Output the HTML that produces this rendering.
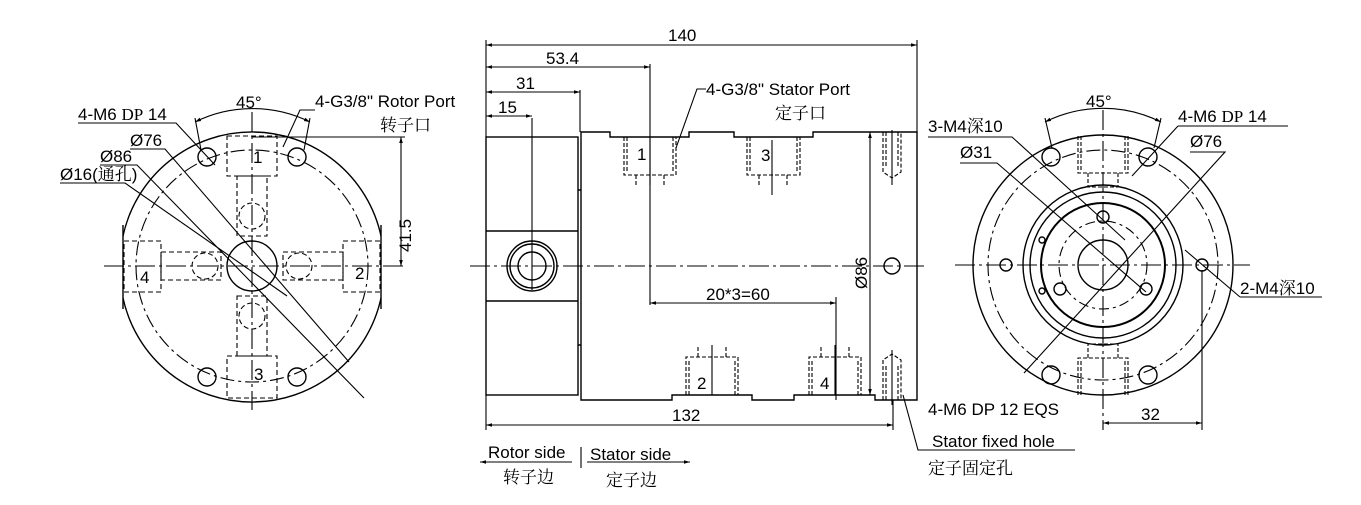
<!DOCTYPE html>
<html><head><meta charset="utf-8"><style>
body{margin:0;background:#fff}
svg{display:block}
text{font-family:"Liberation Sans","Noto Sans CJK SC",sans-serif;fill:#000}
.cn{font-family:"Noto Serif CJK SC","Noto Sans CJK SC",serif;}
</style></head><body>
<svg width="1361" height="505" viewBox="0 0 1361 505" xmlns="http://www.w3.org/2000/svg">
<defs>
<marker id="a" viewBox="0 0 10 10" refX="10" refY="5" markerWidth="10" markerHeight="6" orient="auto-start-reverse" markerUnits="userSpaceOnUse"><path d="M0,2 L10,5 L0,8z" fill="#000"/></marker>
</defs>
<g fill="none" stroke="#000" stroke-width="1.1">
<g stroke-width="1.4">
<path d="M123,236 A132,132 0 0 1 381,236 M123,298 A132,132 0 0 0 381,298"/>
<path d="M123,225 V309 M381,225 V309"/>
<circle cx="252" cy="266" r="25"/>
<circle cx="207" cy="157" r="9"/><circle cx="297" cy="157" r="9"/>
<circle cx="207" cy="377" r="9"/><circle cx="297" cy="377" r="9"/>
</g>
<circle cx="252" cy="266" r="116" stroke-dasharray="14,4,3,4"/>
<g stroke-dasharray="5,3">
<rect x="227" y="136" width="50" height="40"/><rect x="237" y="176" width="30" height="60"/><circle cx="252" cy="216" r="13"/>
<rect x="227" y="356" width="50" height="42"/><rect x="237" y="296" width="30" height="60"/><circle cx="252" cy="316" r="13"/>
<rect x="124" y="241" width="37" height="51"/><rect x="161" y="252" width="60" height="28"/><circle cx="205" cy="266" r="13"/>
<rect x="343" y="241" width="37" height="51"/><rect x="283" y="252" width="60" height="28"/><circle cx="299" cy="266" r="13"/>
</g>
<path d="M104,266 H405 M252,112 V410" stroke-dasharray="20,4,3,4"/>
<path d="M78,123 H176 L215,165"/>
<path d="M130,149 H165 L349,362"/>
<path d="M100,165 H137 L364,398"/>
<path d="M60,183 H125 L287,296"/>
<path d="M315,110 H300 L283,147"/>
<path d="M195,122 A130,130 0 0 1 310,122" marker-start="url(#a)" marker-end="url(#a)"/>
<path d="M195,118 L201,150 M310,118 L304,150"/>
<path d="M252,137 H405"/>
<path d="M401,137 V266" marker-start="url(#a)" marker-end="url(#a)"/>
</g>
<g font-size="17">
<text x="236" y="108">45°</text>
<text x="78" y="120">4-M6 <tspan font-family="Liberation Serif">DP</tspan>  14</text>
<text x="130" y="146">Ø76</text>
<text x="100" y="162">Ø86</text>
<text x="60" y="180">Ø16(<tspan class="cn">通孔</tspan>)</text>
<text x="315" y="107">4-G3/8"  Rotor Port</text>
<text x="380" y="131" class="cn" fill="#333">转子口</text>
<text x="253" y="163">1</text><text x="355" y="279">2</text><text x="254" y="380">3</text><text x="140" y="283">4</text>
<text transform="translate(411,252) rotate(-90)">41.5</text>
</g>

<g fill="none" stroke="#000" stroke-width="1.1">
<g stroke-width="1.4">
<rect x="486" y="137" width="92" height="258"/>
<path d="M486,231 H578 M486,301 H578"/>
<path d="M581,132 H610 V137 H689 V132 H734 V137 H813 V132 H917 V400 H875 V395 H794 V400 H752 V395 H672 V400 H581 Z"/>
<path d="M578,190 H581 M578,345 H581"/>
<circle cx="532" cy="266" r="25"/><circle cx="532" cy="266" r="22"/><circle cx="532" cy="266" r="14"/>
<circle cx="892" cy="266" r="8"/>
</g>
<g stroke-dasharray="4,2">
<path d="M624,137 V175 H676 V137 M627,137 V172 M673,137 V172 M636,175 V187 M664,175 V187"/>
<path d="M747,137 V175 H800 V137 M750,137 V172 M797,137 V172 M759,175 V187 M787,175 V187"/>
<path d="M686,395 V357 H738 V395 M689,395 V360 M735,395 V360 M698,357 V345 M726,357 V345"/>
<path d="M809,395 V357 H861 V395 M812,395 V360 M858,395 V360 M821,357 V345 M849,357 V345"/>
<path d="M883,132 V172 L892,178 L901,172 V132 M886,132 V168 M898,132 V168"/>
<path d="M883,400 V360 L892,354 L901,360 V400 M886,400 V364 M898,400 V364"/>
</g>
<path d="M470,266 H925" stroke-dasharray="20,4,3,4"/>
<path d="M532,118 V290 M650,138 V185 M772,140 V195 M712,345 V395 M835,345 V395 M892,130 V185 M892,350 V405"/>
<path d="M486,40 V137 M917,40 V132 M650,64 V305 M580,90 V132 M836,297 V400 M893,400 V430 M486,395 V430"/>
<path d="M486,45 H917" marker-start="url(#a)" marker-end="url(#a)"/>
<path d="M486,67 H650" marker-start="url(#a)" marker-end="url(#a)"/>
<path d="M486,92 H580" marker-start="url(#a)" marker-end="url(#a)"/>
<path d="M486,116 H532" marker-start="url(#a)" marker-end="url(#a)"/>
<path d="M650,303 H836" marker-start="url(#a)" marker-end="url(#a)"/>
<path d="M486,425 H893" marker-start="url(#a)" marker-end="url(#a)"/>
<path d="M870,132 V395" marker-start="url(#a)" marker-end="url(#a)"/>
<path d="M706,89 H697 L676,148"/>
<path d="M903,395 L918,450 H1075"/>
<path d="M480,462 H572" marker-start="url(#a)"/>
<path d="M587,462 H690" marker-end="url(#a)"/>
<path d="M581,447 V468"/>
</g>
<g font-size="17">
<text x="668" y="41">140</text>
<text x="546" y="64">53.4</text>
<text x="516" y="89">31</text>
<text x="498" y="113">15</text>
<text x="706" y="95">4-G3/8" Stator Port</text>
<text x="775" y="119" class="cn" fill="#333">定子口</text>
<text x="637" y="160">1</text><text x="761" y="161">3</text><text x="697" y="389">2</text><text x="820" y="389">4</text>
<text x="706" y="300">20*3=60</text>
<text x="672" y="421">132</text>
<text transform="translate(867,289) rotate(-90)">Ø86</text>
<text x="488" y="458">Rotor side</text>
<text x="590" y="460">Stator side</text>
<text x="503" y="483" class="cn">转子边</text>
<text x="606" y="486" class="cn">定子边</text>
<text x="928" y="415">4-M6 DP 12 EQS</text>
<text x="932" y="447">Stator fixed hole</text>
<text x="928" y="474" class="cn">定子固定孔</text>
</g>

<g fill="none" stroke="#000" stroke-width="1.1">
<g stroke-width="1.4">
<circle cx="1103" cy="265" r="130"/>
<circle cx="1103" cy="265" r="80"/>
<circle cx="1103" cy="265" r="73"/>
<circle cx="1103" cy="265" r="25"/>
<circle cx="1051" cy="157" r="9"/><circle cx="1148" cy="157" r="9"/>
<circle cx="1051" cy="375" r="9"/><circle cx="1148" cy="375" r="9"/>
<circle cx="1103" cy="217" r="6"/><circle cx="1060" cy="289" r="6"/><circle cx="1146" cy="289" r="6"/>
<circle cx="1006" cy="265" r="6"/><circle cx="1202" cy="265" r="6"/>
<circle cx="1042" cy="240" r="3"/><circle cx="1042" cy="291" r="3"/>
</g>
<circle cx="1103" cy="265" r="62" stroke-width="2"/>
<circle cx="1103" cy="265" r="115" stroke-dasharray="14,4,3,4"/>
<circle cx="1103" cy="265" r="44" stroke-dasharray="10,4,3,4"/>
<g stroke-dasharray="4,2">
<path d="M1078,136 V173 H1128 V136 M1081,136 V170 M1125,136 V170 M1088,173 V187 H1118 V173"/>
<path d="M1078,395 V358 H1128 V395 M1081,395 V361 M1125,395 V361 M1088,358 V344 H1118 V358"/>
</g>
<path d="M955,265 H1250 M1103,110 V430" stroke-dasharray="20,4,3,4"/>
<path d="M928,137 H1012 L1125,240"/>
<path d="M960,163 H997 L1146,292"/>
<path d="M1178,126 H1288 M1178,126 L1132,176"/>
<path d="M1190,152 H1225 L1024,373"/>
<path d="M1240,297 H1322 M1240,297 L1185,250"/>
<path d="M1045,122 A130,130 0 0 1 1161,122" marker-start="url(#a)" marker-end="url(#a)"/>
<path d="M1045,118 L1052,148 M1161,118 L1154,148"/>
<path d="M1202,270 V430"/>
<path d="M1103,423 H1202" marker-start="url(#a)" marker-end="url(#a)"/>
</g>
<g font-size="17">
<text x="1086" y="107">45°</text>
<text x="928" y="132">3-M4<tspan class="cn">深</tspan>10</text>
<text x="960" y="158">Ø31</text>
<text x="1178" y="122">4-M6 <tspan font-family="Liberation Serif">DP</tspan>  14</text>
<text x="1190" y="147">Ø76</text>
<text x="1240" y="294">2-M4<tspan class="cn">深</tspan>10</text>
<text x="1141" y="420">32</text>
</g>
</svg>
</body></html>
